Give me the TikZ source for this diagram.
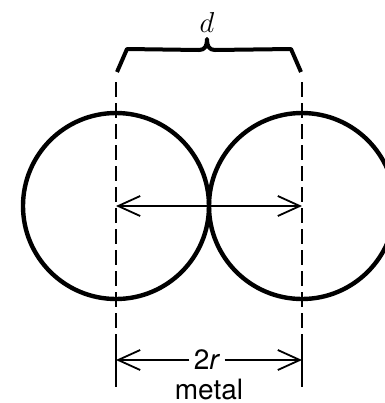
\documentclass[tikz,border=0pt]{standalone}
\usepackage{fontspec}
\usetikzlibrary{arrows.meta}
\newfontfamily\labelfont{TeX Gyre Heros}

\begin{document}
\begin{tikzpicture}[x=0.5pt,y=-0.5pt,>={Straight Barb[length=11pt,width=10pt,line width=0.9pt]},ball/.style={line width=2.2pt},guide/.style={line width=0.9pt,dash pattern=on 7.5pt off 3pt},tick/.style={line width=0.9pt},dim/.style={line width=0.8pt},brace/.style={line width=2pt,line join=round},lbl/.style={font=\labelfont\fontsize{14}{16}\selectfont,inner sep=2pt}]
\useasboundingbox (0,0) rectangle (385,403);
\clip (0,0) rectangle (385,403);
% atoms
\coordinate (cL) at (116,206);
\coordinate (cR) at (302,206);
\draw[ball] (cL) circle[radius=93];
\draw[ball] (cR) circle[radius=93];
% guide lines through the centres
\coordinate (gLt) at (116,82); \coordinate (gLm) at (116,338); \coordinate (gLb) at (116,387);
\coordinate (gRt) at (302,82); \coordinate (gRm) at (302,338); \coordinate (gRb) at (302,387);
\draw[guide] (gLt)--(gLm); \draw[tick] (gLm)--(gLb);
\draw[guide] (gRt)--(gRm); \draw[tick] (gRm)--(gRb);
\draw[dim,<->] (cL)--(cR);
% brace and d
\coordinate (tip) at (207,39);
\draw[brace] (117,72)--(127,49)--(199,50) .. controls (205,50) and (207,46) .. (tip) .. controls (207,46) and (209,50) .. (215,50)--(291,49)--(301,72);
\node[font=\fontsize{15.5}{18}\selectfont,inner sep=1pt] (d) at (207,22) {$d$};
% 2r dimension
\node[lbl] (twor) at (207,360) {2\textit{r}};
\node[lbl,anchor=base,inner sep=0pt] (metal) at (209,399) {metal};
\draw[dim,->] (twor.west)--(gLb |- twor);
\draw[dim,->] (twor.east)--(gRb |- twor);
\end{tikzpicture}
\end{document}
